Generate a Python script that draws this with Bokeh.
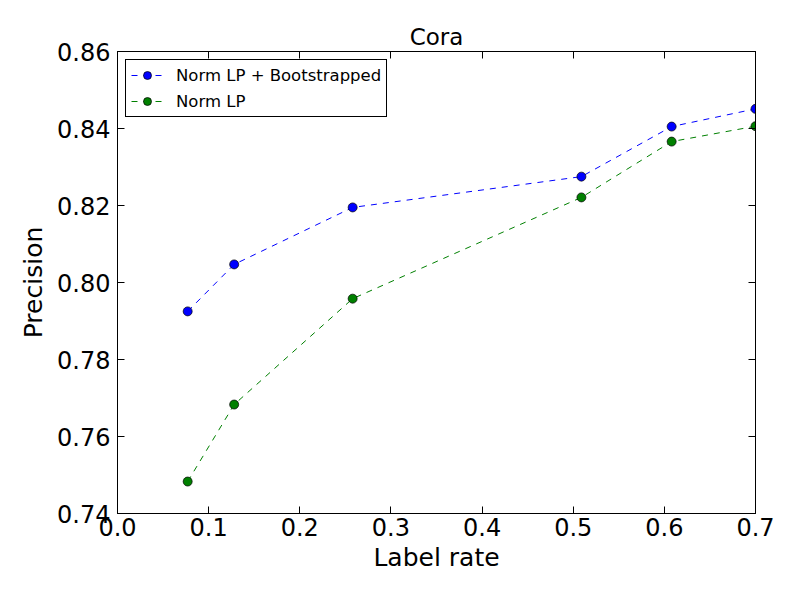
from bokeh.plotting import figure
from bokeh.models import FixedTicker, LinearAxis, NumeralTickFormatter, Range1d, Legend, LegendItem
from bokeh.embed import file_html
from bokeh.resources import INLINE

label_rate = [0.077, 0.128, 0.258, 0.509, 0.608, 0.700]
boot = [0.7925, 0.8047, 0.8195, 0.8275, 0.8405, 0.8451]
norm = [0.7483, 0.7683, 0.7958, 0.8221, 0.8366, 0.8406]
x_ticks = [0.0, 0.1, 0.2, 0.3, 0.4, 0.5, 0.6, 0.7]
y_ticks = [0.74, 0.76, 0.78, 0.80, 0.82, 0.84, 0.86]

FONT = "DejaVu Sans"

p = figure(width=800, height=600, output_backend="svg", toolbar_location=None,
           x_range=Range1d(0, 0.7), y_range=Range1d(0.74, 0.86),
           min_border_left=117, min_border_right=45, min_border_top=51, min_border_bottom=87)
p.title.text = "Cora"
p.title.align = "center"
p.title.text_font = FONT
p.title.text_font_size = "23px"
p.title.text_font_style = "normal"
p.title.text_color = "black"
p.title.standoff = 4
p.grid.visible = False
p.outline_line_color = "black"
p.outline_line_width = 1

for ax in [p.xaxis[0], p.yaxis[0]]:
    ax.major_tick_in = 7
    ax.major_tick_out = 0
    ax.minor_tick_line_color = None
    ax.axis_line_color = "black"
    ax.major_tick_line_color = "black"
    ax.major_label_text_font = FONT
    ax.major_label_text_font_size = "24px"
    ax.major_label_text_color = "black"
    ax.axis_label_text_font = FONT
    ax.axis_label_text_font_size = "25px"
    ax.axis_label_text_font_style = "normal"
    ax.axis_label_text_color = "black"

p.xaxis[0].ticker = FixedTicker(ticks=x_ticks)
p.xaxis[0].formatter = NumeralTickFormatter(format="0.0")
p.xaxis[0].axis_label = "Label rate"
p.xaxis[0].major_label_standoff = 4
p.xaxis[0].axis_label_standoff = 4
p.yaxis[0].ticker = FixedTicker(ticks=y_ticks)
p.yaxis[0].formatter = NumeralTickFormatter(format="0.00")
p.yaxis[0].axis_label = "Precision"
p.yaxis[0].major_label_standoff = 7
p.yaxis[0].axis_label_standoff = 6

top = LinearAxis(ticker=FixedTicker(ticks=x_ticks), major_label_text_font_size="1px",
                 major_label_text_color=None, major_label_standoff=0,
                 major_tick_in=7, major_tick_out=0, minor_tick_line_color=None)
right = LinearAxis(ticker=FixedTicker(ticks=y_ticks), major_label_text_font_size="1px",
                   major_label_text_color=None, major_label_standoff=0,
                   major_tick_in=7, major_tick_out=0, minor_tick_line_color=None)
p.add_layout(top, "above")
p.add_layout(right, "right")

l1 = p.line(label_rate, boot, line_color="blue", line_dash="6 6", line_width=1)
c1 = p.scatter(label_rate, boot, size=9, fill_color="blue", line_color="black", line_width=0.7)
l2 = p.line(label_rate, norm, line_color="green", line_dash="6 6", line_width=1)
c2 = p.scatter(label_rate, norm, size=9, fill_color="green", line_color="black", line_width=0.7)

legend = Legend(items=[LegendItem(label="Norm LP + Bootstrapped", renderers=[l1, c1]),
                       LegendItem(label="Norm LP", renderers=[l2, c2])],
                location="top_left")
legend.label_text_font = FONT
legend.label_text_font_size = "16.5px"
legend.label_text_color = "black"
legend.border_line_color = "black"
legend.border_line_alpha = 1
legend.margin = 8
legend.padding = 5
legend.spacing = 6
legend.glyph_width = 32
legend.glyph_height = 20
legend.label_height = 20
legend.label_standoff = 13
p.add_layout(legend)

open("out.html", "w").write(file_html(p, INLINE))
